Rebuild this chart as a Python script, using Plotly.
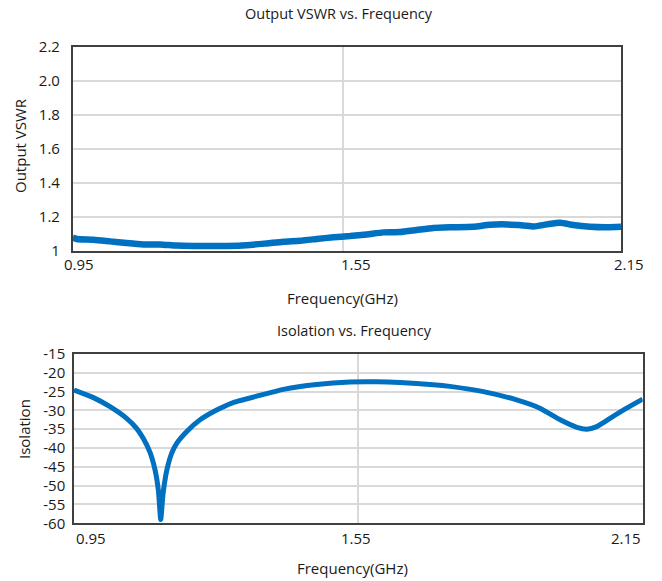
import plotly.graph_objects as go

# ---------------- data ----------------
freq_vswr = [0.95, 0.959, 0.996, 1.033, 1.070, 1.107, 1.144, 1.181, 1.218, 1.292,
             1.344, 1.381, 1.418, 1.455, 1.492, 1.529, 1.566, 1.603, 1.640, 1.677,
             1.714, 1.751, 1.788, 1.840, 1.877, 1.914, 1.951, 1.974, 2.003, 2.033,
             2.062, 2.099, 2.137, 2.168]
vswr = [1.077, 1.069, 1.065, 1.055, 1.045, 1.037, 1.037, 1.030, 1.028, 1.028,
        1.034, 1.043, 1.053, 1.059, 1.069, 1.079, 1.086, 1.096, 1.108, 1.110,
        1.122, 1.134, 1.138, 1.141, 1.153, 1.155, 1.149, 1.143, 1.155, 1.165,
        1.151, 1.141, 1.138, 1.141]

freq_iso = [0.95, 0.991, 1.026, 1.061, 1.082, 1.096, 1.110, 1.121, 1.128, 1.133,
            1.138, 1.146, 1.156, 1.167, 1.188, 1.216, 1.251, 1.286, 1.342, 1.392,
            1.462, 1.532, 1.589, 1.638, 1.708, 1.743, 1.814, 1.884, 1.933, 1.976,
            2.011, 2.032, 2.053, 2.081, 2.116, 2.15]
isolation = [-24.6, -26.6, -29.0, -32.1, -34.75, -37.4, -41.0, -45.8, -51.2, -59.0,
             -52.0, -45.8, -41.4, -38.7, -35.6, -32.5, -29.9, -27.9, -26.0, -24.4,
             -23.1, -22.45, -22.4, -22.6, -23.15, -23.6, -25.0, -27.2, -29.4, -32.5,
             -34.5, -35.0, -34.3, -32.1, -29.4, -27.0]

x_tickvals = [0.95, 1.55, 2.15]
x_ticktext = ["0.95", "1.55", "2.15"]

vswr_tickvals = [1, 1.2, 1.4, 1.6, 1.8, 2.0, 2.2]
vswr_ticktext = ["1", "1.2", "1.4", "1.6", "1.8", "2.0", "2.2"]

iso_tickvals = [-60, -55, -50, -45, -40, -35, -30, -25, -20, -15]
iso_ticktext = ["-60", "-55", "-50", "-45", "-40", "-35", "-30", "-25", "-20", "-15"]

title_top = "Output VSWR vs. Frequency"
title_bottom = "Isolation vs. Frequency"
xlabel = "Frequency(GHz)"
ylabel_top = "Output VSWR"
ylabel_bottom = "Isolation"

# ---------------- style ----------------
W, H = 662, 581
FONT = "Open Sans"
BLUE = "#0070C0"
GRID = "#d9d9d9"
AXIS = "#404040"
TXT = "#1a1a1a"


def px(x):
    return x / W


def py(y):
    return 1 - y / H


fig = go.Figure()
fig.add_trace(go.Scatter(x=freq_vswr, y=vswr, mode="lines",
                         line=dict(color=BLUE, width=6.5, shape="spline", smoothing=0.6),
                         xaxis="x", yaxis="y", showlegend=False, hoverinfo="skip"))
fig.add_trace(go.Scatter(x=freq_iso, y=isolation, mode="lines",
                         line=dict(color=BLUE, width=5, shape="spline", smoothing=0.5),
                         xaxis="x2", yaxis="y2", showlegend=False, hoverinfo="skip"))

common_axis = dict(showline=True, linecolor=AXIS, linewidth=1.5, mirror=True,
                   showgrid=True, gridcolor=GRID, gridwidth=1.5, zeroline=False,
                   ticks="")

fig.update_layout(
    width=W, height=H,
    margin=dict(l=0, r=0, t=0, b=0, autoexpand=False),
    paper_bgcolor="white", plot_bgcolor="white",
    font=dict(family=FONT, color=TXT, size=15),
    xaxis=dict(domain=[px(72.7), px(621)], anchor="y", range=[0.95, 2.168],
               tickvals=[1.55], showticklabels=False, **common_axis),
    yaxis=dict(domain=[py(250.7), py(47)], anchor="x", range=[1, 2.2],
               tickvals=vswr_tickvals, ticktext=vswr_ticktext,
               tickfont=dict(size=15), ticklabelstandoff=8, **common_axis),
    xaxis2=dict(domain=[px(74), px(642.7)], anchor="y2", range=[0.95, 2.15],
                tickvals=[1.55], showticklabels=False, **common_axis),
    yaxis2=dict(domain=[py(523.3), py(354)], anchor="x2", range=[-60, -15],
                tickvals=iso_tickvals, ticktext=iso_ticktext,
                tickfont=dict(size=15), ticklabelstandoff=4, **common_axis),
)

ann = []


def add_text(text, x, y, xref="paper", size=15, angle=0, xanchor="center", xshift=0):
    ann.append(dict(text=text, x=x, y=y, xref=xref, yref="paper", showarrow=False,
                    xanchor=xanchor, yanchor="middle", xshift=xshift,
                    textangle=angle, font=dict(size=size)))


# titles
add_text(title_top, px(339), py(14), size=14.5)
add_text(title_bottom, px(354.5), py(330), size=14.5)
# axis titles
add_text(xlabel, px(342), py(298))
add_text(xlabel, px(353), py(568))
add_text(ylabel_top, px(20), py(146), angle=-90)
add_text(ylabel_bottom, px(24), py(429), angle=-90)

# x tick labels (placed as in the reference)
top_shift = [6, 13, 16]
for v, t, s in zip(x_tickvals, x_ticktext, top_shift):
    add_text(t, v, py(264), xref="x", xshift=s)
bot_anchor = ["left", "center", "right"]
bot_shift = [0, -2, 0]
for v, t, a, s in zip(x_tickvals, x_ticktext, bot_anchor, bot_shift):
    add_text(t, v, py(538), xref="x2", xanchor=a, xshift=s)

fig.update_layout(annotations=ann)
fig.write_html("out.html", config={"displayModeBar": False},
               post_script="document.body.style.margin='0px';")
